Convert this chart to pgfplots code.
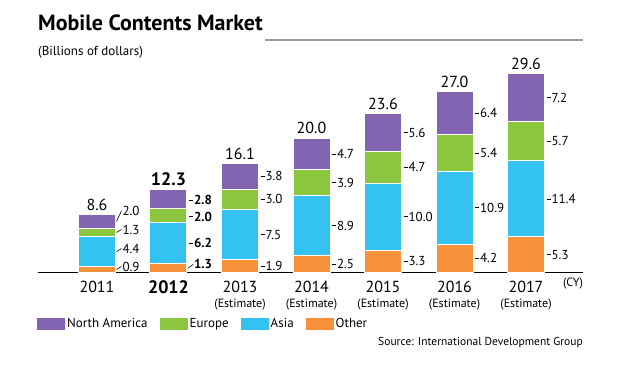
\documentclass[border=0pt]{standalone}
\usepackage{fontspec}
\setmainfont{PT Sans}
\usepackage{pgfplots}
\pgfplotsset{compat=1.18}
\definecolor{cNA}{HTML}{8264B0}
\definecolor{cEU}{HTML}{8CC63E}
\definecolor{cAS}{HTML}{34C3F0}
\definecolor{cOT}{HTML}{F7923A}
\newcommand{\fs}[1]{\fontsize{#1}{#1}\selectfont}
% straight dash label: x (bar right edge), y, text
\newcommand{\seg}[3]{\draw[black, line width=0.6pt] ([xshift=2pt]axis cs:#1,#2) -- ([xshift=6pt]axis cs:#1,#2) node[right, inner sep=0.8pt, font=\fs{13}] {#3};}
% slanted leader: x, from y, to y, text
\newcommand{\segl}[4]{\draw[black, line width=0.6pt] ([xshift=1pt]axis cs:#1,#2) -- ([xshift=6pt]axis cs:#1,#3) node[right, inner sep=0.8pt, font=\fs{13}] {#4};}
\newcommand{\tot}[3]{\node[anchor=south, inner sep=0pt, yshift=4pt, font=\fs{16}] at (axis cs:#1,#2) {#3};}
\begin{document}
\begin{tikzpicture}[x=1pt,y=1pt]
\path[use as bounding box, fill=white] (0,0) rectangle (619,370);
\begin{axis}[
  at={(38pt,97.5pt)}, anchor=south west,
  scale only axis, width=545pt, height=212pt,
  xmin=-0.825, xmax=6.797, ymin=0, ymax=31.55,
  ybar stacked, bar width=37pt,
  axis x line*=bottom, hide y axis,
  x axis line style={line width=1.3pt, -},
  xtick={0,1,2,3,4,5,6}, xtick style={draw=none},
  xticklabels={2011, {\fs{18}\bfseries 2012}, {2013\\[-1pt]\fs{12}(Estimate)}, {2014\\[-1pt]\fs{12}(Estimate)}, {2015\\[-1pt]\fs{12}(Estimate)}, {2016\\[-1pt]\fs{12}(Estimate)}, {2017\\[-1pt]\fs{12}(Estimate)}},
  xticklabel style={align=center, font=\fs{16}, anchor=north, yshift=-5pt},
  every axis plot/.append style={draw=white, line width=1pt},
  reverse legend,
  legend style={at={(rel axis cs:0,0)}, anchor=north west, xshift=-4pt, yshift=-42pt, draw=none, fill=none, font=\fs{13},
    legend columns=4, /tikz/every even column/.append style={column sep=10pt}},
  legend image code/.code={\fill[#1, draw=none] (0pt,-6pt) rectangle (28pt,6pt);},
  clip=false,
]
\addplot[fill=cOT] coordinates {(0,0.9) (1,1.3) (2,1.9) (3,2.5) (4,3.3) (5,4.2) (6,5.3)};
\addplot[fill=cAS] coordinates {(0,4.4) (1,6.2) (2,7.5) (3,8.9) (4,10.0) (5,10.9) (6,11.4)};
\addplot[fill=cEU] coordinates {(0,1.3) (1,2.0) (2,3.0) (3,3.9) (4,4.7) (5,5.4) (6,5.7)};
\addplot[fill=cNA] coordinates {(0,2.0) (1,2.8) (2,3.8) (3,4.7) (4,5.6) (5,6.4) (6,7.2)};
\legend{Other, Asia, Europe, North America}
% totals
\tot{0}{8.6}{8.6}
\node[anchor=south, inner sep=0pt, yshift=4pt, font=\fs{18}\bfseries] at (axis cs:1,12.3) {12.3};
\tot{2}{16.2}{16.1}
\tot{3}{20.0}{20.0}
\tot{4}{23.6}{23.6}
\tot{5}{26.9}{27.0}
\tot{6}{29.6}{29.6}
% 2011
\segl{0.259}{0.45}{0.9}{0.9}
\segl{0.259}{3.1}{3.57}{4.4}
\segl{0.259}{5.95}{6.4}{1.3}
\segl{0.259}{7.6}{9.2}{2.0}
% 2012
\draw[black, line width=0.6pt] ([xshift=1pt]axis cs:1.259,0.65) -- ([xshift=6pt]axis cs:1.259,1.2) node[right, inner sep=0.8pt, font=\fs{13}\bfseries] {1.3};
\draw[black, line width=0.6pt] ([xshift=2pt]axis cs:1.259,4.4) -- ([xshift=6pt]axis cs:1.259,4.4) node[right, inner sep=0.8pt, font=\fs{13}\bfseries] {6.2};
\draw[black, line width=0.6pt] ([xshift=2pt]axis cs:1.259,8.3) -- ([xshift=6pt]axis cs:1.259,8.3) node[right, inner sep=0.8pt, font=\fs{13}\bfseries] {2.0};
\draw[black, line width=0.6pt] ([xshift=2pt]axis cs:1.259,10.8) -- ([xshift=6pt]axis cs:1.259,10.8) node[right, inner sep=0.8pt, font=\fs{13}\bfseries] {2.8};
% 2013
\seg{2.259}{0.95}{1.9}
\seg{2.259}{5.65}{7.5}
\seg{2.259}{10.9}{3.0}
\seg{2.259}{14.3}{3.8}
% 2014
\seg{3.259}{1.25}{2.5}
\seg{3.259}{6.95}{8.9}
\seg{3.259}{13.35}{3.9}
\seg{3.259}{17.65}{4.7}
% 2015
\seg{4.259}{1.65}{3.3}
\seg{4.259}{8.3}{10.0}
\seg{4.259}{15.65}{4.7}
\seg{4.259}{20.8}{5.6}
% 2016
\seg{5.259}{2.1}{4.2}
\seg{5.259}{9.65}{10.9}
\seg{5.259}{17.8}{5.4}
\seg{5.259}{23.7}{6.4}
% 2017
\seg{6.259}{2.65}{5.3}
\seg{6.259}{10.95}{11.4}
\seg{6.259}{19.5}{5.7}
\seg{6.259}{26.0}{7.2}
\end{axis}
\node[anchor=base west, inner sep=0pt, font=\fs{22}\bfseries] at (38,339) {Mobile Contents Market};
\draw[black!40, line width=1.2pt] (265,330) -- (583,330);
\node[anchor=base west, inner sep=0pt, font=\fs{13}] at (38,314) {(Billions of dollars)};
\node[anchor=center, inner sep=0pt, font=\fs{12}] at (573,86) {(CY)};
\node[anchor=base east, inner sep=0pt, font=\fs{11.5}] at (583,25) {Source: International Development Group};
\end{tikzpicture}
\end{document}
